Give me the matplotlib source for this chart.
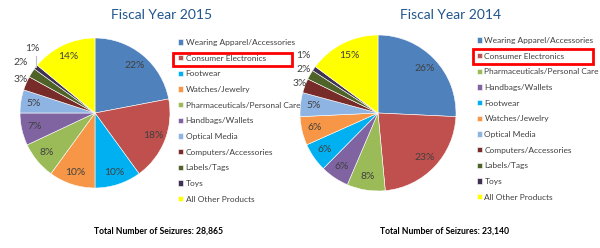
import matplotlib
matplotlib.use("Agg")
import matplotlib.pyplot as plt
from matplotlib.patches import Rectangle
import numpy as np

plt.rcParams['font.family'] = ['Lato', 'DejaVu Sans']

# ---- data ----
colors_by_cat = {
    "Wearing Apparel/Accessories": "#4F81BD",
    "Consumer Electronics": "#C0504D",
    "Footwear": "#00B0F0",
    "Watches/Jewelry": "#F79646",
    "Pharmaceuticals/Personal Care": "#9BBB59",
    "Handbags/Wallets": "#8064A2",
    "Optical Media": "#8EB4E3",
    "Computers/Accessories": "#772C2A",
    "Labels/Tags": "#4F6228",
    "Toys": "#3F3151",
    "All Other Products": "#FFFF00",
}

cats_2015 = ["Wearing Apparel/Accessories", "Consumer Electronics", "Footwear",
             "Watches/Jewelry", "Pharmaceuticals/Personal Care", "Handbags/Wallets",
             "Optical Media", "Computers/Accessories", "Labels/Tags", "Toys",
             "All Other Products"]
vals_2015 = [22, 18, 10, 10, 8, 7, 5, 3, 2, 1, 14]

cats_2014 = ["Wearing Apparel/Accessories", "Consumer Electronics",
             "Pharmaceuticals/Personal Care", "Handbags/Wallets", "Footwear",
             "Watches/Jewelry", "Optical Media", "Computers/Accessories",
             "Labels/Tags", "Toys", "All Other Products"]
vals_2014 = [26, 23, 8, 6, 6, 6, 5, 3, 2, 1, 15]

titles = ["Fiscal Year 2015", "Fiscal Year 2014"]
totals = ["Total Number of Seizures: 28,865", "Total Number of Seizures: 23,140"]

W, H = 600, 248
fig = plt.figure(figsize=(W / 100, H / 100), dpi=100)
fig.patch.set_facecolor("white")


def fx(px):
    return px / W


def fy(py):
    return 1 - py / H


TITLE_COLOR = "#22558C"
PCT_COLOR = "#404040"

panels = [
    dict(cats=cats_2015, vals=vals_2015, cx=95, cy=113, r=75, title_x=162,
         leg_x=178, leg_y=39, box=(173, 53, 292, 66), total_x=159,
         small_pos={7: (-0.99, 0.45), 8: (-0.99, 0.67), 9: (-0.84, 0.86)},
         leader=9),
    dict(cats=cats_2014, vals=vals_2014, cx=378, cy=113, r=78, title_x=451,
         leg_x=477, leg_y=37, box=(473, 49, 593, 64), total_x=445,
         small_pos={7: (-1.0, 0.38), 8: (-0.95, 0.56), 9: (-0.96, 0.74)},
         leader=None),
]

for i, p in enumerate(panels):
    cx, cy, r = p["cx"], p["cy"], p["r"]
    ax = fig.add_axes([fx(cx - r), fy(cy + r), fx(2 * r), (2 * r) / H])
    cols = [colors_by_cat[c] for c in p["cats"]]
    wedges, _ = ax.pie(p["vals"], colors=cols, startangle=90, counterclock=False,
                       radius=1.0, wedgeprops=dict(edgecolor="white", linewidth=0.4))
    ax.set_xlim(-1, 1)
    ax.set_ylim(-1, 1)
    ax.axis("off")
    for k, (w, v) in enumerate(zip(wedges, p["vals"])):
        mid = np.deg2rad((w.theta1 + w.theta2) / 2)
        if k in p["small_pos"]:
            tx, ty = p["small_pos"][k]
        else:
            tx, ty = 0.83 * np.cos(mid), 0.83 * np.sin(mid)
        ax.text(tx, ty, f"{v}%", ha="center", va="center", fontsize=7.5,
                color=PCT_COLOR)
        if p["leader"] == k:
            ex, ey = np.cos(mid), np.sin(mid)
            ax.plot([ex, ex], [ey, ty - 0.1], color="#BFBFBF", lw=0.8,
                    clip_on=False)

    fig.text(fx(p["title_x"]), fy(15), titles[i], ha="center", va="center",
             fontsize=10, color=TITLE_COLOR)
    fig.text(fx(p["total_x"]), fy(231), totals[i], ha="center", va="center",
             fontsize=6.2, fontweight="bold", color="black")

    leg = fig.legend(wedges, p["cats"], loc="upper left",
                     bbox_to_anchor=(fx(p["leg_x"]), fy(p["leg_y"])),
                     frameon=False, fontsize=6.0, handlelength=0.6,
                     handleheight=0.6, handletextpad=0.3, labelspacing=1.04,
                     borderpad=0, borderaxespad=0)
    for t in leg.get_texts():
        t.set_color("#404040")

    x0, y0, x1, y1 = p["box"]
    fig.add_artist(Rectangle((fx(x0), fy(y1)), fx(x1 - x0), (y1 - y0) / H,
                             transform=fig.transFigure, fill=False,
                             edgecolor="#FF0000", linewidth=2))

fig.savefig("out.png", dpi=100, facecolor="white")
